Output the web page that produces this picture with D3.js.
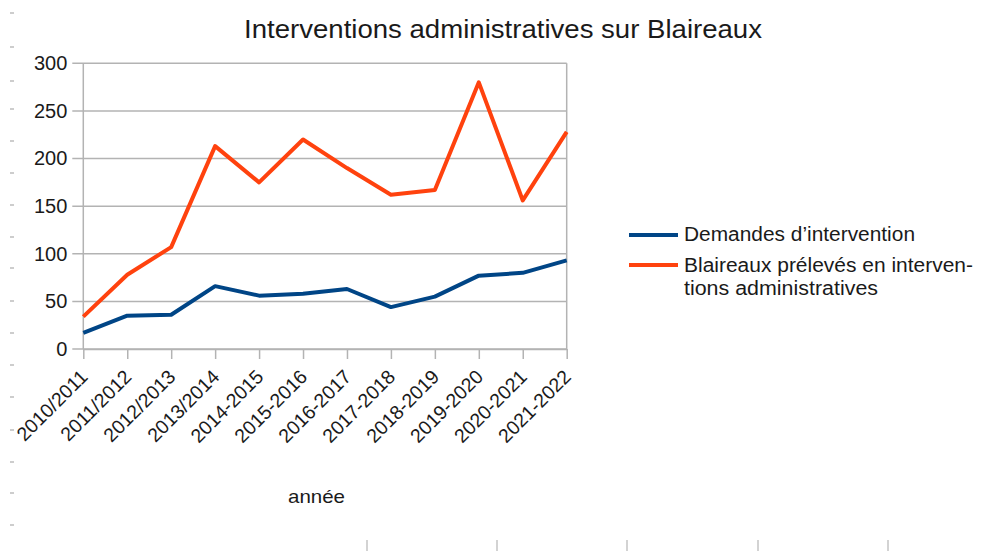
<!DOCTYPE html>
<html>
<head>
<meta charset="utf-8">
<script src="https://cdn.jsdelivr.net/npm/d3@7"></script>
<style>
  body { margin:0; background:#fff; }
  svg text { font-family:"Liberation Sans", Arial, sans-serif; fill:#1a1a1a; }
</style>
</head>
<body>
<svg id="chart"></svg>
<script>
// data
var annees = ["2010/2011","2011/2012","2012/2013","2013/2014","2014-2015","2015-2016",
              "2016-2017","2017-2018","2018-2019","2019-2020","2020-2021","2021-2022"];
var demandes = [17,35,36,66,56,58,63,44,55,77,80,93];
var blaireaux = [34,78,107,213,175,220,190,162,167,280,156,228];
var yTicks = [0,50,100,150,200,250,300];
var seriesNames = ["Demandes d\u2019intervention",
                   ["Blaireaux prélevés en interven-","tions administratives"]];
var seriesColors = ["#004586","#ff420e"];

var screen = {width:982,height:551}
var plot = {left:83.3,right:566.7,top:63.3,bottom:349}

var svg = d3.select("#chart")
    .attr("width",screen.width)
    .attr("height",screen.height)

// ruler marks left and bottom (screenshot artefacts)
var rulerY = [13,47,81,109,141,173,205,237,268,301,333,365,397,430,462,493,525];
var rulerX = [367,497,627,758,888];
svg.selectAll(".rly").data(rulerY).enter().append("line")
    .attr("x1",10).attr("x2",14).attr("y1",d=>d).attr("y2",d=>d)
    .attr("stroke","#bdbdbd").attr("stroke-width",1.5)
svg.selectAll(".rlx").data(rulerX).enter().append("line")
    .attr("x1",d=>d).attr("x2",d=>d).attr("y1",540).attr("y2",551)
    .attr("stroke","#c4c4c4").attr("stroke-width",1.5)

var xScale = d3.scalePoint()
    .domain(annees)
    .range([plot.left,plot.right])

var yScale = d3.scaleLinear()
    .domain([0,300])
    .range([plot.bottom,plot.top])

var gridColor = "#b3b3b3";

// horizontal grid
svg.append("g")
    .selectAll("line")
    .data(yTicks)
    .enter()
    .append("line")
    .attr("x1",plot.left-11)
    .attr("x2",plot.right)
    .attr("y1",d=>yScale(d))
    .attr("y2",d=>yScale(d))
    .attr("stroke",gridColor)
    .attr("stroke-width",1.5)

// y axis labels
var yAxis = d3.axisLeft(yScale).tickValues(yTicks).tickSize(0).tickPadding(16)
var gy = svg.append("g").attr("transform","translate("+plot.left+",0)").call(yAxis)
gy.select(".domain").remove()
gy.selectAll("text")
    .attr("font-size",20)
    .attr("font-family","Liberation Sans, Arial, sans-serif")
    .attr("fill","#1a1a1a")

// x axis
var xAxis = d3.axisBottom(xScale).tickSize(10).tickSizeOuter(0)
var gx = svg.append("g").attr("transform","translate(0,"+plot.bottom+")").call(xAxis)
gx.select(".domain").attr("stroke",gridColor).attr("stroke-width",1.5)
gx.selectAll(".tick line").attr("stroke",gridColor).attr("stroke-width",1.5)
gx.selectAll("text")
    .attr("font-size",19.5)
    .attr("font-family","Liberation Sans, Arial, sans-serif")
    .attr("fill","#1a1a1a")
    .attr("text-anchor","end")
    .attr("dy",null)
    .attr("y",0)
    .attr("transform","translate(5,29) rotate(-45)")

// frame verticals
svg.append("line")
    .attr("x1",plot.left).attr("x2",plot.left)
    .attr("y1",plot.top).attr("y2",plot.bottom)
    .attr("stroke",gridColor).attr("stroke-width",1.5)
svg.append("line")
    .attr("x1",plot.right).attr("x2",plot.right)
    .attr("y1",plot.top).attr("y2",plot.bottom)
    .attr("stroke",gridColor).attr("stroke-width",1.5)

// lines
var lineGen = d3.line()
    .x(function(d,i){ return xScale(annees[i]); })
    .y(function(d){ return yScale(d); })

;[demandes,blaireaux].forEach(function(serie,i)
{
    svg.append("path")
        .datum(serie)
        .attr("d",lineGen)
        .attr("fill","none")
        .attr("stroke",seriesColors[i])
        .attr("stroke-width",4)
        .attr("stroke-linejoin","round")
})

// title
svg.append("text")
    .attr("x",244)
    .attr("y",38)
    .attr("font-size",26)
    .attr("textLength",518)
    .attr("lengthAdjust","spacingAndGlyphs")
    .text("Interventions administratives sur Blaireaux")

// x axis title
svg.append("text")
    .attr("x",288)
    .attr("y",503)
    .attr("font-size",19)
    .attr("textLength",57)
    .attr("lengthAdjust","spacingAndGlyphs")
    .text("année")

// legend
var legend = svg.append("g")
var legendY = [235,265];
legendY.forEach(function(ly,i)
{
    legend.append("line")
        .attr("x1",629).attr("x2",678)
        .attr("y1",ly).attr("y2",ly)
        .attr("stroke",seriesColors[i])
        .attr("stroke-width",4)
})
legend.append("text")
    .attr("x",684).attr("y",241)
    .attr("font-size",20)
    .attr("textLength",231)
    .attr("lengthAdjust","spacingAndGlyphs")
    .text(seriesNames[0])
legend.append("text")
    .attr("x",684).attr("y",272)
    .attr("font-size",20)
    .attr("textLength",289)
    .attr("lengthAdjust","spacingAndGlyphs")
    .text(seriesNames[1][0])
legend.append("text")
    .attr("x",684).attr("y",295)
    .attr("font-size",20)
    .attr("textLength",194)
    .attr("lengthAdjust","spacingAndGlyphs")
    .text(seriesNames[1][1])
</script>
</body>
</html>
